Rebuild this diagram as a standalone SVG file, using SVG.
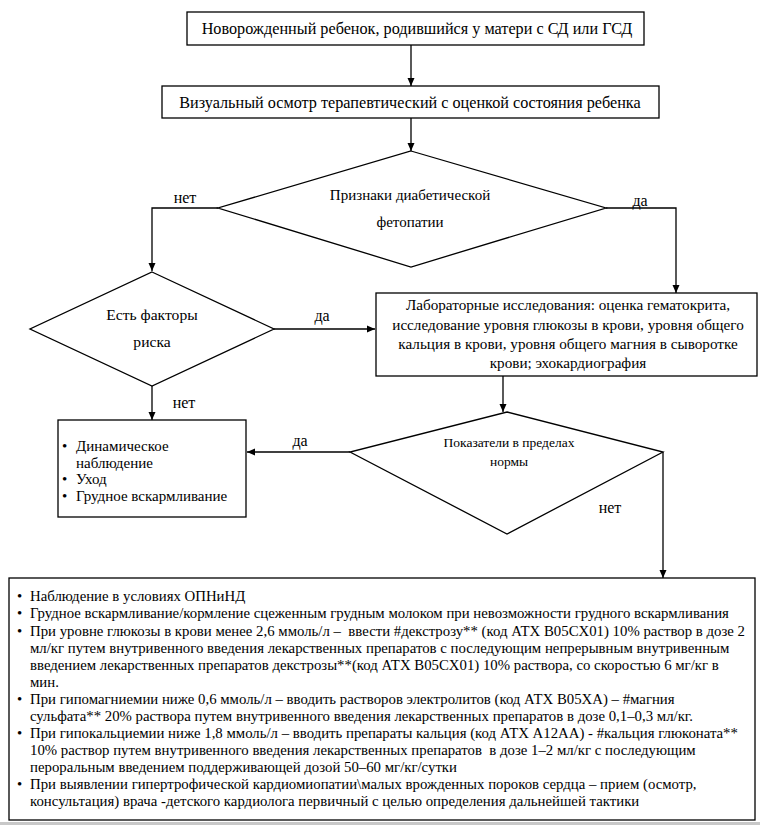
<svg xmlns="http://www.w3.org/2000/svg" width="760" height="825" viewBox="0 0 760 825">
<defs>
<marker id="arr" markerWidth="8" markerHeight="8" refX="8" refY="4" orient="auto" markerUnits="userSpaceOnUse">
<path d="M0,0.5 L8,4 L0,7.5 Z" fill="#000"/>
</marker>
<style>
.box{fill:#fff;stroke:#000;stroke-width:1.3}
text{font-family:"Liberation Serif","Times New Roman",serif;fill:#000}
.m{text-anchor:middle}
.s{font-size:14.8px}
.c{stroke:#000;stroke-width:1.3;fill:none}
</style>
</defs>
<rect width="760" height="825" fill="#fff"/>
<rect x="0" y="822" width="760" height="3" fill="#c8c8c8"/>
<g id="connectors">
<path class="c" d="M411,45 V86" marker-end="url(#arr)"/>
<path class="c" d="M411,118 V151" marker-end="url(#arr)"/>
<path class="c" d="M218,208 H152 V271" marker-end="url(#arr)"/>
<path class="c" d="M606,208 H676 V293" marker-end="url(#arr)"/>
<path class="c" d="M274,329 H375" marker-end="url(#arr)"/>
<path class="c" d="M152,386 V420" marker-end="url(#arr)"/>
<path class="c" d="M503,376 V412" marker-end="url(#arr)"/>
<path class="c" d="M350,452 H247" marker-end="url(#arr)"/>
<path class="c" d="M663,452 V578" marker-end="url(#arr)"/>
<text class="m" font-size="16" x="185" y="203">нет</text>
<text class="m" font-size="16" x="640" y="206">да</text>
<text class="m" font-size="16" x="322" y="321">да</text>
<text class="m" font-size="16" x="184" y="408">нет</text>
<text class="m" font-size="16" x="300" y="446">да</text>
<text class="m" font-size="16" x="610" y="513">нет</text>
</g>
<g id="n1">
<rect class="box" x="187" y="12" width="457" height="33"/>
<text class="m" x="417" y="34" font-size="16.2">Новорожденный ребенок, родившийся у матери с СД или ГСД</text>
</g>
<g id="n2">
<rect class="box" x="162" y="86" width="497" height="32"/>
<text class="m" x="410" y="108" font-size="16.2">Визуальный осмотр терапевтический с оценкой состояния ребенка</text>
</g>
<g id="d1">
<polygon class="box" points="411,151 606,208 411,267 218,208"/>
<text class="m" x="410" y="200" font-size="15">Признаки диабетической</text>
<text class="m" x="410" y="227" font-size="15">фетопатии</text>
</g>
<g id="d2">
<polygon class="box" points="152,272 274,329 152,386 30,329"/>
<text class="m" x="152" y="320" font-size="15.6">Есть факторы</text>
<text class="m" x="152" y="347" font-size="15.6">риска</text>
</g>
<g id="lab">
<rect class="box" x="376" y="293" width="381" height="83"/>
<text class="m" x="568" y="310" font-size="15.2">Лабораторные исследования: оценка гематокрита,</text>
<text class="m" x="568" y="330" font-size="15.2">исследование уровня глюкозы в крови, уровня общего</text>
<text class="m" x="568" y="349" font-size="15.2">кальция в крови, уровня общего магния в сыворотке</text>
<text class="m" x="568" y="368" font-size="15.2">крови; эхокардиография</text>
</g>
<g id="d3">
<polygon class="box" points="507,412 663,452 507,534 350,452"/>
<text class="m" x="509" y="447" font-size="13.5">Показатели в пределах</text>
<text class="m" x="509" y="466" font-size="13.5">нормы</text>
</g>
<g id="n3">
<rect class="box" x="58" y="420" width="188" height="97"/>
<text font-size="15" x="62" y="451">•</text>
<text font-size="15" x="76" y="451">Динамическое</text>
<text font-size="15" x="76" y="468">наблюдение</text>
<text font-size="15" x="62" y="484">•</text>
<text font-size="15" x="76" y="484">Уход</text>
<text font-size="15" x="62" y="501">•</text>
<text font-size="15" x="76" y="501">Грудное вскармливание</text>
</g>
<g id="n4">
<rect class="box" x="9" y="578" width="746" height="242"/>
<text class="s" x="17" y="601">•</text>
<text class="s" x="30" y="601">Наблюдение в условиях ОПНиНД</text>
<text class="s" x="17" y="618">•</text>
<text class="s" x="30" y="618">Грудное вскармливание/кормление сцеженным грудным молоком при невозможности грудного вскармливания</text>
<text class="s" x="17" y="636">•</text>
<text class="s" x="30" y="636" xml:space="preserve">При уровне глюкозы в крови менее 2,6 ммоль/л –  ввести #декстрозу** (код АТХ B05CX01) 10% раствор в дозе 2</text>
<text class="s" x="30" y="653">мл/кг путем внутривенного введения лекарственных препаратов с последующим непрерывным внутривенным</text>
<text class="s" x="30" y="670">введением лекарственных препаратов декстрозы**(код АТХ B05CX01) 10% раствора, со скоростью 6 мг/кг в</text>
<text class="s" x="30" y="687">мин.</text>
<text class="s" x="17" y="704">•</text>
<text class="s" x="30" y="704">При гипомагниемии ниже 0,6 ммоль/л – вводить растворов электролитов (код АТХ B05XA) – #магния</text>
<text class="s" x="30" y="721">сульфата** 20% раствора путем внутривенного введения лекарственных препаратов в дозе 0,1–0,3 мл/кг.</text>
<text class="s" x="17" y="738">•</text>
<text class="s" x="30" y="738">При гипокальциемии ниже 1,8 ммоль/л – вводить препараты кальция (код АТХ A12AA) - #кальция глюконата**</text>
<text class="s" x="30" y="755" xml:space="preserve">10% раствор путем внутривенного введения лекарственных препаратов  в дозе 1–2 мл/кг с последующим</text>
<text class="s" x="30" y="772">пероральным введением поддерживающей дозой 50–60 мг/кг/сутки</text>
<text class="s" x="17" y="789">•</text>
<text class="s" x="30" y="789">При выявлении гипертрофической кардиомиопатии\малых врожденных пороков сердца – прием (осмотр,</text>
<text class="s" x="30" y="806">консультация) врача -детского кардиолога первичный с целью определения дальнейшей тактики</text>
</g>
</svg>
